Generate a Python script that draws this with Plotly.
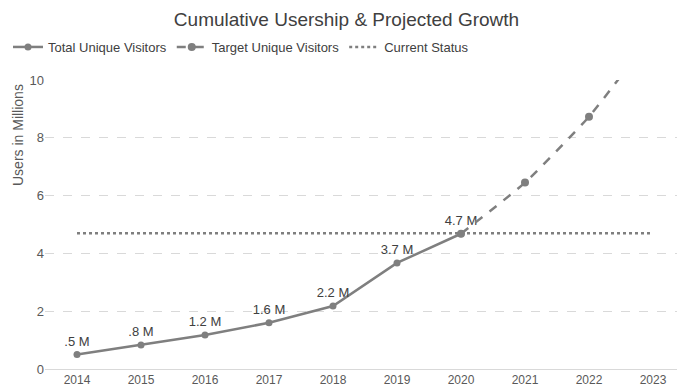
import plotly.graph_objects as go

years = ["2014", "2015", "2016", "2017", "2018", "2019", "2020", "2021", "2022", "2023"]
total_years = ["2014", "2015", "2016", "2017", "2018", "2019", "2020"]
total_values = [0.5, 0.83, 1.18, 1.6, 2.18, 3.67, 4.68]
total_labels = [".5 M", ".8 M", "1.2 M", "1.6 M", "2.2 M", "3.7 M", "4.7 M"]
target_years = ["2020", "2021", "2022", "2023"]
target_values = [4.68, 6.45, 8.73, 11.6]
status_years = years
status_values = [4.7] * len(years)

W, H = 677, 384
L, T, B = 37, 72, 23
gray = "#7f7f7f"
fig = go.Figure()
fig.add_trace(go.Scatter(
    x=total_years, y=total_values, name="Total Unique Visitors",
    mode="lines+markers+text", text=total_labels, textposition="top center",
    textfont=dict(size=13, color="#404040"),
    line=dict(color=gray, width=2.5), marker=dict(size=7, color=gray),
))
fig.add_trace(go.Scatter(
    x=target_years, y=target_values, name="Target Unique Visitors",
    mode="lines+markers", line=dict(color=gray, width=2.5, dash="dash", shape="spline", smoothing=0.5),
    marker=dict(size=8, color=gray),
))
fig.add_trace(go.Scatter(
    x=status_years, y=status_values, name="Current Status",
    mode="lines", line=dict(color=gray, width=2.5, dash="dot"),
))

fig.add_annotation(
    text="Users in Millions", textangle=-90, showarrow=False,
    xref="paper", yref="paper", x=-L / (W - L), xanchor="left",
    y=(H - B - 127) / (H - T - B), yanchor="middle",
    font=dict(size=14, color="#595959"),
)

fig.update_layout(
    width=W, height=H,
    paper_bgcolor="white", plot_bgcolor="white",
    font=dict(family="Liberation Sans, Arial, sans-serif", color="#595959", size=12),
    title=dict(text="Cumulative Usership & Projected Growth", x=0.5, xanchor="center",
               xref="container", yref="container",
               y=1 - 11.5 / H, yanchor="middle", font=dict(size=19, color="#404040")),
    margin=dict(l=L, r=0, t=T, b=B, autoexpand=False),
    legend=dict(orientation="h", xref="container", yref="container",
                x=0.0, y=1 - 39 / H, yanchor="middle", xanchor="left",
                font=dict(size=13, color="#404040"),
                traceorder="normal", bgcolor="rgba(0,0,0,0)"),
    xaxis=dict(type="category", categoryorder="array", categoryarray=years,
               range=[-0.5, 9.5], showgrid=False, showline=True, linecolor="#d9d9d9",
               linewidth=1, ticks="", tickfont=dict(size=12, color="#595959"),
               automargin=False),
    yaxis=dict(range=[0, 10], dtick=2, showgrid=True, gridcolor="#d9d9d9", griddash="dash",
               zeroline=False, showline=False, ticks="", automargin=False,
               tickfont=dict(size=13, color="#595959")),
)

fig.write_html("out.html")
